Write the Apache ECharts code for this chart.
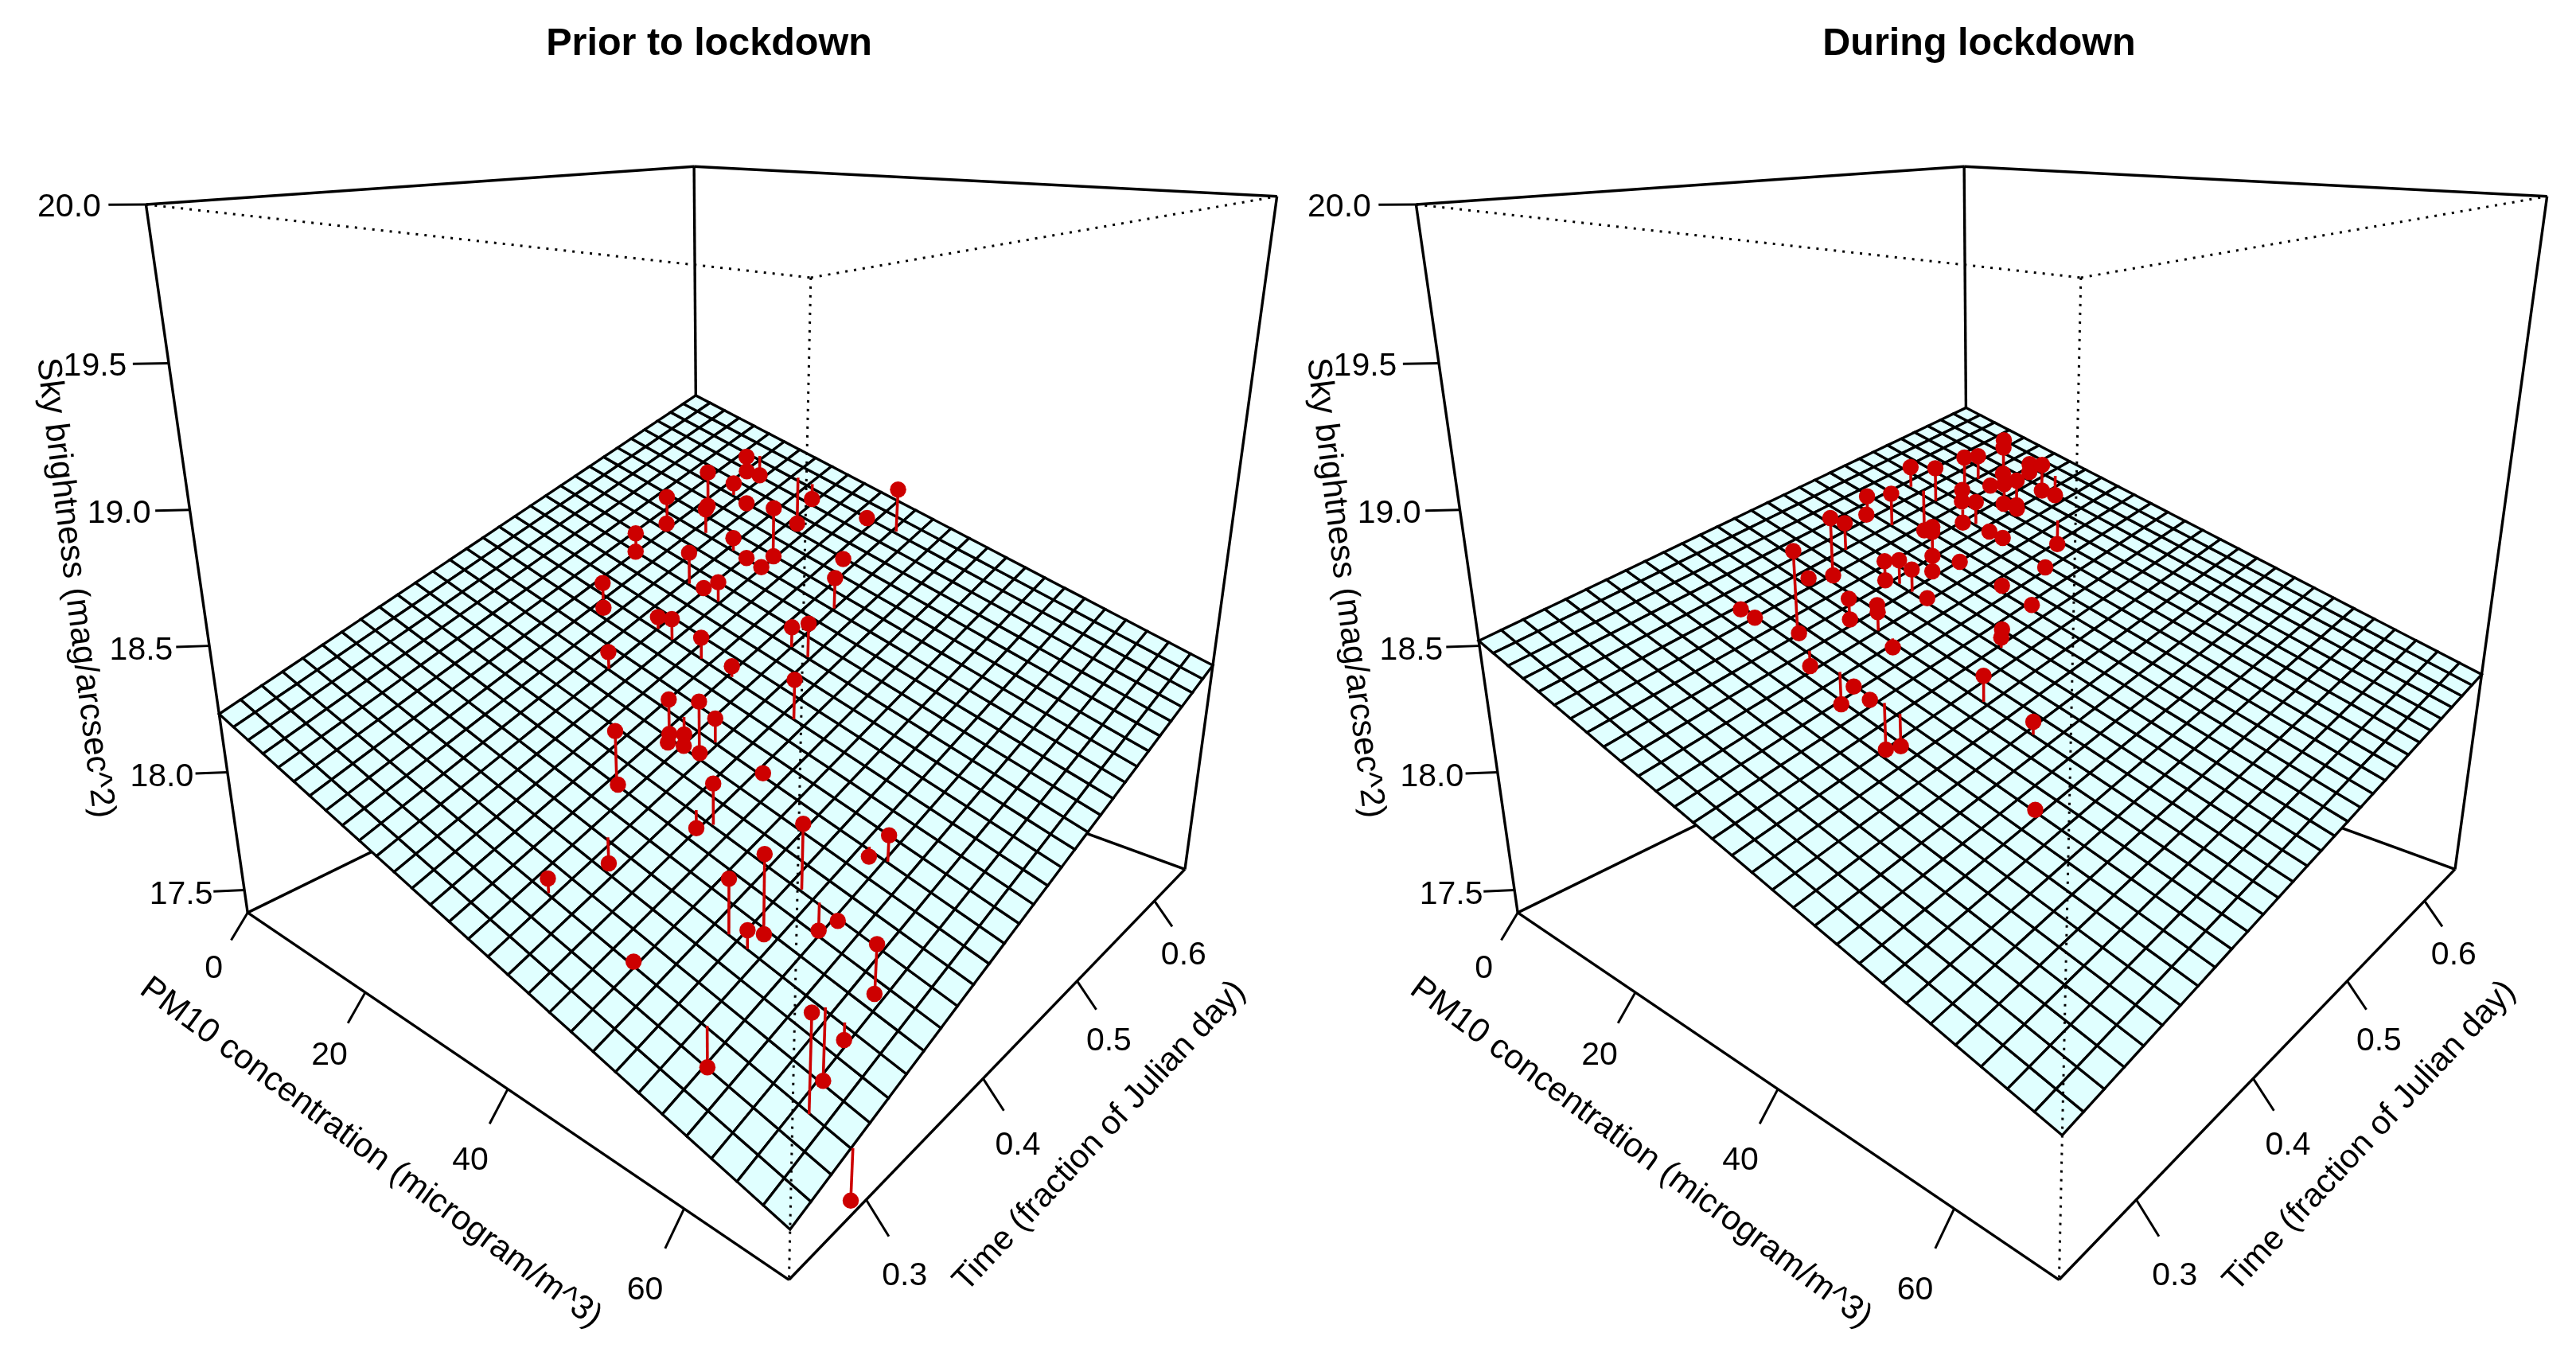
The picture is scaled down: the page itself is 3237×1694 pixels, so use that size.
<!DOCTYPE html>
<html><head><meta charset="utf-8"><script src="https://cdn.jsdelivr.net/npm/echarts@6/dist/echarts.min.js"></script>
<style>html,body{margin:0;padding:0;background:#fff}#c{width:3237px;height:1694px}</style></head>
<body><div id="c"></div>
<script>
// ---------- data ----------
const priorPM=[13.5,14.7,14.0,14.6,16.3,13.1,13.8,15.3,18.2,18.4,25.7,26.3,22.0,20.0,34.2,30.4,13.8,14.4,22.4,22.2,24.3,26.4,32.4,36.2,23.8,26.3,16.9,17.8,24.2,26.3,36.2,38.3,30.3,24.2,34.2,42.2,33.8,37.5,38.3,34.3,34.9,34.0,36.3,38.0,34.2,34.7,44.0,44.2,42.0,38.0,38.1,54.2,54.1,58.2,56.1,52.2,54.2,54.4,56.1,58.3,47.9,64.2,64.4,66.2,62.1,64.0,56.0,70.1];
const priorTime=[.610,.602,.621,.562,.577,.531,.526,.557,.536,.576,.552,.548,.621,.620,.619,.617,.497,.493,.535,.494,.535,.535,.575,.536,.497,.494,.449,.444,.453,.452,.494,.494,.452,.411,.453,.452,.402,.403,.411,.399,.394,.413,.398,.400,.358,.356,.412,.370,.371,.329,.287,.370,.341,.411,.412,.328,.328,.339,.370,.368,.288,.351,.349,.286,.329,.329,.287,.287];
const priorSky=[18.786,18.738,18.689,18.788,18.730,18.713,18.609,18.652,18.690,18.657,18.725,18.530,18.635,18.507,18.767,18.617,18.613,18.545,18.599,18.603,18.528,18.506,18.522,18.543,18.463,18.515,18.511,18.425,18.429,18.443,18.421,18.456,18.406,18.372,18.329,18.363,18.308,18.339,18.264,18.186,18.172,18.145,18.166,18.153,18.297,18.105,18.119,18.196,17.994,17.927,18.003,18.186,18.164,18.080,17.967,18.089,17.938,17.889,17.824,17.903,17.858,17.977,17.812,18.022,17.530,17.717,17.632,17.463];
const priorFit=[17.794,-0.00947,1.799];
const duringPM=[9.3,12.6,11.9,12.2,14.1,15.2,18.1,8.2,12.1,13.4,18.1,14.1,16.8,18.8,17.8,8.2,8.9,12.2,12.6,14.1,18.2,15.3,17.6,18.8,19.3,13.8,12.2,9.7,15.4,18.3,19.1,21.0,20.2,22.0,23.9,18.2,19.2,14.6,13.3,17.9,20.2,22.0,18.8,21.8,28.6,27.6,20.2,21.0,21.2,24.1,23.8,31.8,12.6,14.5,32.3,34.1,25.9,21.8,38.1,28.4,30.7,26.0,31.9,33.9,44.1,50.1];
const duringTime=[.625,.602,.566,.578,.620,.612,.605,.536,.536,.596,.578,.578,.574,.600,.622,.495,.490,.494,.559,.549,.536,.542,.568,.573,.570,.433,.453,.539,.512,.494,.489,.477,.536,.537,.580,.381,.377,.429,.416,.454,.453,.453,.449,.497,.533,.498,.411,.407,.428,.412,.455,.497,.367,.368,.466,.453,.413,.371,.411,.368,.367,.371,.371,.371,.411,.370];
const duringSky=[18.817,18.833,18.831,18.823,18.743,18.724,18.786,18.805,18.826,18.727,18.753,18.703,18.734,18.681,18.621,18.735,18.668,18.776,18.700,18.675,18.721,18.600,18.661,18.655,18.648,18.780,18.715,18.526,18.629,18.660,18.573,18.545,18.608,18.593,18.509,18.771,18.468,18.559,18.559,18.602,18.627,18.604,18.539,18.557,18.528,18.505,18.547,18.480,18.498,18.529,18.499,18.465,18.519,18.502,18.431,18.443,18.404,18.378,18.426,18.376,18.353,18.273,18.165,18.203,18.320,18.179];
const duringFit=[18.289,-0.00915,0.939];
const pmTicks=[0,20,40,60];
const timeTicks=['0.3','0.4','0.5','0.6'];
const skyTicks=['17.5','18.0','18.5','19.0','19.5','20.0'];
const panelTitles=['Prior to lockdown','During lockdown'];
const axisTitles=['PM10 concentration (microgram/m^3)','Time (fraction of Julian day)','Sky brightness (mag/arcsec^2)'];

// ---------- axis extents and camera ----------
const PM_MAX=70,T_MIN=.245,T_RANGE=.4,Z_MIN=17.4,Z_RANGE=2.6,CELLS=29;
const n=(pm,t,z)=>[pm/PM_MAX,(t-T_MIN)/T_RANGE,(z-Z_MIN)/Z_RANGE];
const corners=[[0,0,0,311,1146],[1,0,0,994,1606],[1,1,0,1490,1090],[0,0,1,184,257],[1,0,1,1018,347],[1,1,1,1605,248],[0,1,1,872,209]];
const calib=[];corners.forEach(c=>calib.push(c,c,c,c));
[[19.5,211.6,456.6],[19,238,641],[18.5,263,812],[18,285,972],[17.5,307,1119.5]].forEach(a=>calib.push([0,0,(a[0]-Z_MIN)/Z_RANGE,a[1],a[2]]));
[[20,461,1249],[40,638,1369.5],[60,860,1518]].forEach(a=>calib.push([a[0]/PM_MAX,0,0,a[1],a[2]]));
[[.3,1083,1516],[.4,1231,1360],[.5,1351,1235],[.6,1449,1136]].forEach(a=>calib.push([1,(a[0]-T_MIN)/T_RANGE,0,a[1],a[2]]));
function solve(A,b){const k=b.length;A=A.map((r,i)=>r.concat(b[i]));for(let i=0;i<k;i++){let p=i;for(let q=i;q<k;q++)if(Math.abs(A[q][i])>Math.abs(A[p][i]))p=q;[A[i],A[p]]=[A[p],A[i]];for(let q=0;q<k;q++)if(q!==i){const f=A[q][i]/A[i][i];for(let j=i;j<=k;j++)A[q][j]-=f*A[i][j];}}return A.map((r,i)=>r[k]/r[i]);}
function lsq(R,b){const k=R[0].length;const A=Array.from({length:k},()=>Array(k).fill(0)),y=Array(k).fill(0);R.forEach((r,q)=>{for(let i=0;i<k;i++){y[i]+=r[i]*b[q];for(let j=0;j<k;j++)A[i][j]+=r[i]*r[j];}});return solve(A,y);}
const RR=[],BB=[];calib.forEach(([u,v,w,x,y])=>{RR.push([u,v,w,1,0,0,0,0,-x*u,-x*v,-x*w]);BB.push(x);RR.push([0,0,0,0,u,v,w,1,-y*u,-y*v,-y*w]);BB.push(y);});
const m=lsq(RR,BB);
const proj=(u,v,w)=>{const d=m[8]*u+m[9]*v+m[10]*w+1;return [(m[0]*u+m[1]*v+m[2]*w+m[3])/d,(m[4]*u+m[5]*v+m[6]*w+m[7])/d];};
const projD=(pm,t,z)=>proj(...n(pm,t,z));

const TICK=.031,LABEL=.0634,TIME_LABEL_U=.0534,TIME_LABEL_W=.0714;
const FAMILY='"Liberation Sans", Arial, sans-serif';
const RED='#CD0000';

// ---------- custom-series painters ----------
const base=idx=>({type:'custom',coordinateSystem:'cartesian2d',xAxisIndex:idx,yAxisIndex:idx,silent:true,animation:false,clip:false,progressive:0});
function segSeries(idx,data,style){return Object.assign(base(idx),{data,
  renderItem:(p,api)=>{const a=api.coord([api.value(0),api.value(1)]),b=api.coord([api.value(2),api.value(3)]);return {type:'line',shape:{x1:a[0],y1:a[1],x2:b[0],y2:b[1]},style:Object.assign({fill:null},style)};}});}
function meshSeries(idx,data){return Object.assign(base(idx),{data,
  renderItem:(p,api)=>{const pts=[0,2,4,6].map(i=>api.coord([api.value(i),api.value(i+1)]));return {type:'polygon',shape:{points:pts},style:{fill:'#E0FFFF',stroke:'#000',lineWidth:3.3,lineJoin:'miter'}};}});}
function textSeries(idx,data){return Object.assign(base(idx),{data:data.map(d=>[d[0],d[1],d[3]||0]),
  renderItem:(p,api)=>{const a=api.coord([api.value(0),api.value(1)]),d=data[p.dataIndex];return {type:'text',x:a[0],y:a[1],rotation:api.value(2)*Math.PI/180,style:{text:d[2],font:(d[4]||41)+'px '+FAMILY,fill:'#000',align:'center',verticalAlign:'middle'}};}});}

function panel(idx,pm,time,sky,fit){
  const f=(p,t)=>fit[0]+fit[1]*p+fit[2]*t, out=[];
  const seg=(a,b)=>[a[0],a[1],b[0],b[1]];
  const C=proj;
  out.push(segSeries(idx,[
    seg(C(0,0,0),C(0,0,1)),seg(C(1,1,0),C(1,1,1)),seg(C(0,1,0),C(0,1,1)),
    seg(C(0,0,1),C(0,1,1)),seg(C(0,1,1),C(1,1,1)),
    seg(C(0,0,0),C(1,0,0)),seg(C(1,0,0),C(1,1,0)),seg(C(0,0,0),C(0,1,0)),seg(C(0,1,0),C(1,1,0))
  ],{stroke:'#000',lineWidth:3.4}));
  const ticks=[],labels=[];
  pmTicks.forEach(p=>{const u=p/PM_MAX;ticks.push(seg(C(u,0,0),C(u,-TICK,-TICK)));const q=C(u,-LABEL,-LABEL);labels.push([q[0],q[1],String(p)]);});
  timeTicks.forEach(tl=>{const v=(+tl-T_MIN)/T_RANGE;ticks.push(seg(C(1,v,0),C(1+TICK,v,-TICK)));const q=C(1+TIME_LABEL_U,v,-TIME_LABEL_W);labels.push([q[0],q[1],tl]);});
  skyTicks.forEach(zl=>{const w=(+zl-Z_MIN)/Z_RANGE;ticks.push(seg(C(0,0,w),C(-TICK,-TICK,w)));const q=C(-LABEL,-LABEL,w);labels.push([q[0],q[1]+3,zl]);});
  out.push(segSeries(idx,ticks,{stroke:'#000',lineWidth:3}));
  const mesh=[];
  for(let i=0;i<CELLS;i++)for(let j=0;j<CELLS;j++){
    const p0=PM_MAX*i/CELLS,p1=PM_MAX*(i+1)/CELLS,t0=T_MIN+T_RANGE*j/CELLS,t1=T_MIN+T_RANGE*(j+1)/CELLS;
    mesh.push([...projD(p0,t0,f(p0,t0)),...projD(p1,t0,f(p1,t0)),...projD(p1,t1,f(p1,t1)),...projD(p0,t1,f(p0,t1))]);
  }
  out.push(meshSeries(idx,mesh));
  out.push(segSeries(idx,[seg(C(0,0,1),C(1,0,1)),seg(C(1,0,1),C(1,1,1)),seg(C(1,0,1),C(1,0,0))],{stroke:'#000',lineWidth:3,lineDash:[3,8]}));
  out.push(segSeries(idx,pm.map((p,i)=>seg(projD(p,time[i],sky[i]),projD(p,time[i],f(p,time[i])))),{stroke:RED,lineWidth:3.6}));
  out.push({type:'scatter',xAxisIndex:idx,yAxisIndex:idx,silent:true,animation:false,clip:false,symbol:'circle',symbolSize:20.5,itemStyle:{color:RED,opacity:1},data:pm.map((p,i)=>projD(p,time[i],sky[i]))});
  labels.push([466,1449,axisTitles[0],-36.5,42.5],[1382,1428,axisTitles[1],47,42],[94,739,axisTitles[2],-83,42.5]);
  out.push(textSeries(idx,labels));
  return out;
}
const PANEL_W=1641,H=1694;
const ax=(i,inv,max)=>({gridIndex:i,type:'value',min:0,max,show:false,inverse:inv});
const chart=echarts.init(document.getElementById('c'),null,{width:3237,height:H});
chart.setOption({
  animation:false,backgroundColor:'#fff',
  title:[0,1].map(i=>({text:panelTitles[i],left:[886,2482][i],top:26,textAlign:'center',textStyle:{fontFamily:FAMILY,fontWeight:'bold',fontSize:48.5,color:'#000'}})),
  grid:[{left:0,top:0,width:PANEL_W,height:H},{left:1596,top:0,width:PANEL_W,height:H}],
  xAxis:[ax(0,false,PANEL_W),ax(1,false,PANEL_W)],
  yAxis:[ax(0,true,H),ax(1,true,H)],
  series:[...panel(0,priorPM,priorTime,priorSky,priorFit),...panel(1,duringPM,duringTime,duringSky,duringFit)]
});
</script></body></html>
